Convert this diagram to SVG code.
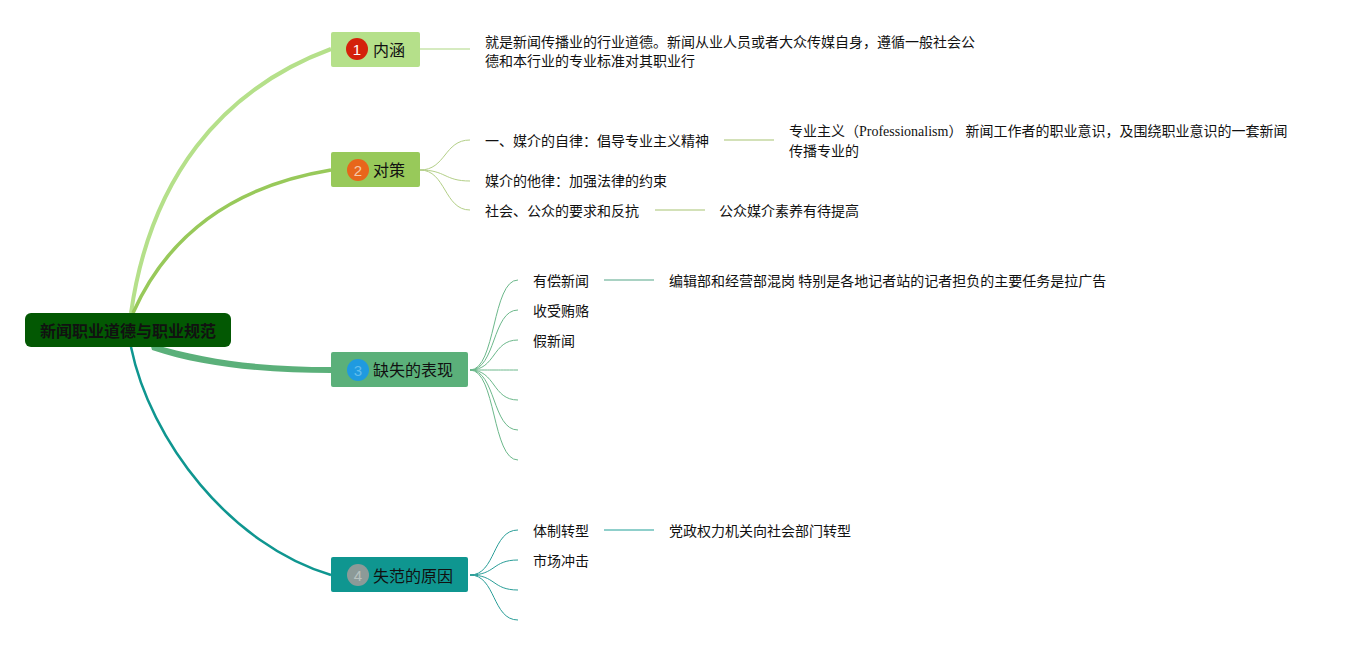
<svg xmlns="http://www.w3.org/2000/svg" width="1349" height="645" viewBox="0 0 1349 645">
<style>
.t{font-family:"Noto Sans CJK SC","Liberation Sans",sans-serif;font-size:14px;fill:#111}
.n{font-family:"Noto Sans CJK SC","Liberation Sans",sans-serif;font-size:16px;fill:#111}
.num{font-family:"Liberation Sans","Noto Sans",sans-serif;font-size:15px;text-anchor:middle}
.c2{fill:none;stroke:#b3cf87;stroke-width:1}
.c3{fill:none;stroke:#6cb88b;stroke-width:1}
.c4{fill:none;stroke:#2a9e98;stroke-width:1}
.serif{font-family:"Liberation Serif",serif}
</style>
<rect width="1349" height="645" fill="#fff"/>
<g id="connectors">
<path d="M131,313 C150,180 220,90 331,49" fill="none" stroke="#b5e08a" stroke-width="4"/>
<path d="M133,313 C170,230 240,185 331,170" fill="none" stroke="#98c95a" stroke-width="3.5"/>
<path d="M150,343 C210,362 270,367 331,367 L331,373 C270,373 205,368 152,350 Z" fill="#5bb07a"/>
<path d="M131,347 C150,440 230,545 331,575" fill="none" stroke="#0f9690" stroke-width="2.5"/>
<line x1="420" y1="49" x2="470" y2="49" stroke="#d6ebc0" stroke-width="2"/>
<path class="c2" d="M420,170 C446,170 444,140 470,140"/>
<path class="c2" d="M420,170 C446,170 444,181 470,181"/>
<path class="c2" d="M420,170 C446,170 444,210 470,210"/>
<line x1="724" y1="140" x2="774" y2="140" stroke="#d3e1b8" stroke-width="2"/>
<line x1="655" y1="210" x2="705" y2="210" stroke="#d3e1b8" stroke-width="2"/>
<path class="c3" d="M470,370 C496,370 492,280 518,280"/>
<path class="c3" d="M470,370 C496,370 492,310 518,310"/>
<path class="c3" d="M470,370 C496,370 492,340 518,340"/>
<path class="c3" d="M470,370 C496,370 492,370 518,370"/>
<path class="c3" d="M470,370 C496,370 492,400 518,400"/>
<path class="c3" d="M470,370 C496,370 492,430 518,430"/>
<path class="c3" d="M470,370 C496,370 492,460 518,460"/>
<line x1="604" y1="280" x2="654" y2="280" stroke="#a9d2c3" stroke-width="2"/>
<path class="c4" d="M470,575 C496,575 492,530 518,530"/>
<path class="c4" d="M470,575 C496,575 492,560 518,560"/>
<path class="c4" d="M470,575 C496,575 492,590 518,590"/>
<path class="c4" d="M470,575 C496,575 492,620 518,620"/>
<line x1="604" y1="530" x2="654" y2="530" stroke="#8fcfcb" stroke-width="2"/>
</g>
<g id="root">
<rect x="25" y="313" width="206" height="34" rx="6" fill="#035803"/>
<text x="128" y="337" class="n" font-weight="bold" text-anchor="middle">新闻职业道德与职业规范</text>
</g>
<g id="n1">
<rect x="331" y="32" width="89" height="35" rx="2" fill="#b5e08a"/>
<circle cx="357" cy="49" r="11" fill="#d4210b"/>
<text x="357" y="55" class="num" fill="#fff">1</text>
<text x="373" y="56" class="n">内涵</text>
</g>
<g id="n1a">
<text x="485" y="47" class="t">就是新闻传播业的行业道德。新闻从业人员或者大众传媒自身，遵循一般社会公</text>
<text x="485" y="66" class="t">德和本行业的专业标准对其职业行</text>
</g>
<g id="n2">
<rect x="331" y="152" width="89" height="35" rx="2" fill="#98c95a"/>
<circle cx="358" cy="170" r="11" fill="#e8661b"/>
<text x="358" y="176" class="num" fill="#f6c9a8">2</text>
<text x="373" y="176" class="n">对策</text>
</g>
<g id="n2a"><text x="485" y="146" class="t">一、媒介的自律：倡导专业主义精神</text></g>
<g id="n2a1">
<text x="789" y="136" class="t">专业主义（<tspan class="serif">Professionalism</tspan>） 新闻工作者的职业意识，及围绕职业意识的一套新闻</text>
<text x="789" y="156" class="t">传播专业的</text>
</g>
<g id="n2b"><text x="485" y="186" class="t">媒介的他律：加强法律的约束</text></g>
<g id="n2c"><text x="485" y="216" class="t">社会、公众的要求和反抗</text></g>
<g id="n2c1"><text x="719" y="216" class="t">公众媒介素养有待提高</text></g>
<g id="n3">
<rect x="331" y="352" width="137" height="35" rx="2" fill="#5bb07a"/>
<circle cx="358" cy="370" r="11" fill="#1f9ae0"/>
<text x="358" y="376" class="num" fill="#62bdec">3</text>
<text x="373" y="376" class="n">缺失的表现</text>
</g>
<g id="n3a"><text x="533" y="286" class="t">有偿新闻</text></g>
<g id="n3a1"><text x="669" y="286" class="t">编辑部和经营部混岗 特别是各地记者站的记者担负的主要任务是拉广告</text></g>
<g id="n3b"><text x="533" y="316" class="t">收受贿赂</text></g>
<g id="n3c"><text x="533" y="346" class="t">假新闻</text></g>
<g id="n4">
<rect x="331" y="557" width="137" height="35" rx="2" fill="#0f9690"/>
<circle cx="358" cy="575" r="11" fill="#8c9a98"/>
<text x="358" y="581" class="num" fill="#b8c2c0">4</text>
<text x="373" y="582" class="n">失范的原因</text>
</g>
<g id="n4a"><text x="533" y="536" class="t">体制转型</text></g>
<g id="n4a1"><text x="669" y="536" class="t">党政权力机关向社会部门转型</text></g>
<g id="n4b"><text x="533" y="566" class="t">市场冲击</text></g>
</svg>
